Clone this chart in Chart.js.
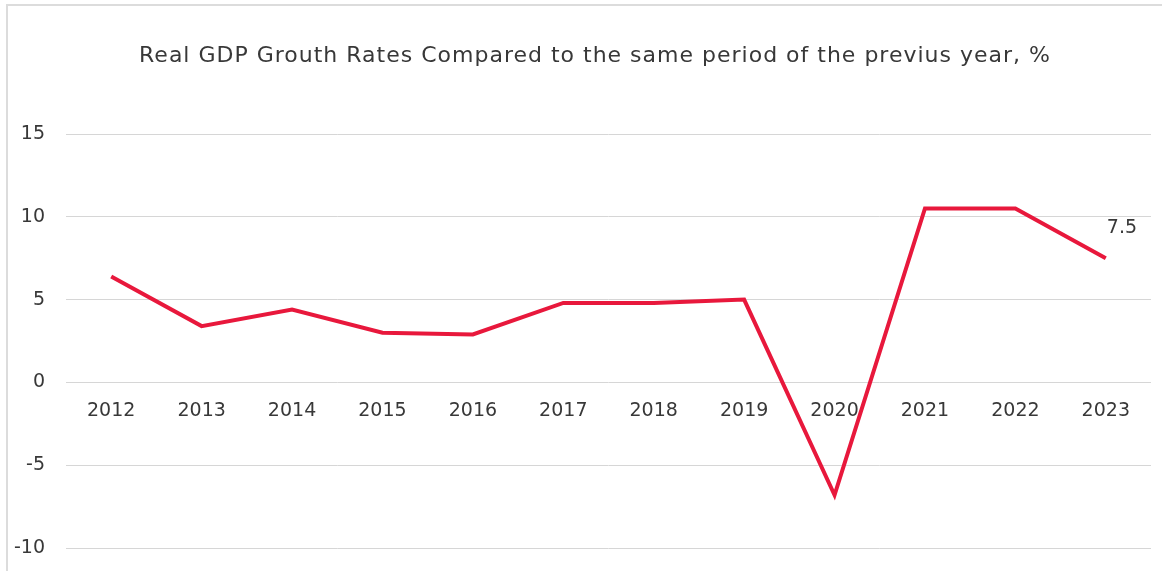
<!DOCTYPE html>
<html>
<head>
<meta charset="utf-8">
<title>Real GDP Growth</title>
<script src="https://cdn.jsdelivr.net/npm/chart.js@4.4.0/dist/chart.umd.min.js"></script>
<style>
  html, body { margin: 0; padding: 0; background: #ffffff; overflow: hidden; }
  #frame {
    position: absolute; left: 6px; top: 4px; width: 1200px; height: 600px;
    border-left: 2px solid #dcdcdc; border-top: 2px solid #dcdcdc;
  }
  #gdpChart { position: absolute; left: 0; top: 0; }
</style>
</head>
<body>
<div id="frame"></div>
<canvas id="gdpChart" width="1162" height="571"></canvas>
<script>
// Data
const years = ['2012', '2013', '2014', '2015', '2016', '2017', '2018', '2019', '2020', '2021', '2022', '2023'];
const growth = [6.4, 3.4, 4.4, 3.0, 2.9, 4.8, 4.8, 5.0, -6.8, 10.5, 10.5, 7.5];
const yTicks = [-10, -5, 0, 5, 10, 15];
const chartTitle = 'Real GDP Grouth Rates Compared to the same period of the previus year, %';

const textColor = '#383838';
const tickFont = { family: "'DejaVu Sans', sans-serif", size: 19 };

// title sits a little right of the canvas centre, as in the original
const titleText = {
  id: 'titleText',
  afterDraw(chart) {
    const ctx = chart.ctx;
    ctx.save();
    ctx.font = "22px 'DejaVu Sans', sans-serif";
    ctx.letterSpacing = '1px';
    ctx.fillStyle = '#383838';
    ctx.textAlign = 'center';
    ctx.textBaseline = 'middle';
    ctx.fillText(chartTitle, 595, 56);
    ctx.restore();
  }
};

// writes the value of the last point next to it
const lastValueLabel = {
  id: 'lastValueLabel',
  afterDatasetsDraw(chart) {
    const meta = chart.getDatasetMeta(0);
    const last = meta.data.length - 1;
    const pt = meta.data[last];
    const ctx = chart.ctx;
    ctx.save();
    ctx.font = "19px 'DejaVu Sans', sans-serif";
    ctx.fillStyle = textColor;
    ctx.textAlign = 'left';
    ctx.textBaseline = 'middle';
    ctx.fillText(growth[last].toFixed(1), pt.x + 1, pt.y - 30);
    ctx.restore();
  }
};

const ctx = document.getElementById('gdpChart').getContext('2d');
const gdpChart = new Chart(ctx, {
  type: 'line',
  data: {
    labels: years,
    datasets: [{
      label: 'Real GDP growth',
      data: growth,
      borderColor: 'rgb(232, 24, 60)',
      backgroundColor: 'rgb(232, 24, 60)',
      borderWidth: 4,
      pointRadius: 0,
      pointHoverRadius: 0,
      tension: 0,
      fill: false
    }]
  },
  options: {
    responsive: false,
    animation: false,
    devicePixelRatio: 1,
    layout: {
      padding: { left: 8, right: 11, top: 134, bottom: 23 }
    },
    plugins: {
      legend: { display: false },
      tooltip: { enabled: false },
      title: { display: false }
    },
    scales: {
      x: {
        type: 'category',
        offset: true,
        position: { y: 0 },
        afterFit(scale) {
          // axis sits on the zero line, it should not take room at the bottom
          scale.paddingTop = 0;
          scale.paddingBottom = 0;
          scale.height = 0;
        },
        grid: { display: true, color: 'rgba(0,0,0,0)', drawTicks: true, tickLength: 14 },
        border: { display: false },
        ticks: { color: textColor, font: tickFont, maxRotation: 0, autoSkip: false }
      },
      y: {
        min: yTicks[0],
        max: yTicks[yTicks.length - 1],
        afterBuildTicks(scale) {
          scale.ticks = yTicks.map(v => ({ value: v }));
        },
        afterFit(scale) {
          scale.width = 58;
          scale.paddingTop = 0;
          scale.paddingBottom = 0;
        },
        grid: { color: '#d6d6d6', lineWidth: 1, drawTicks: false },
        border: { display: false },
        ticks: { color: textColor, font: tickFont, padding: 21 }
      }
    }
  },
  plugins: [lastValueLabel, titleText]
});
</script>
</body>
</html>
